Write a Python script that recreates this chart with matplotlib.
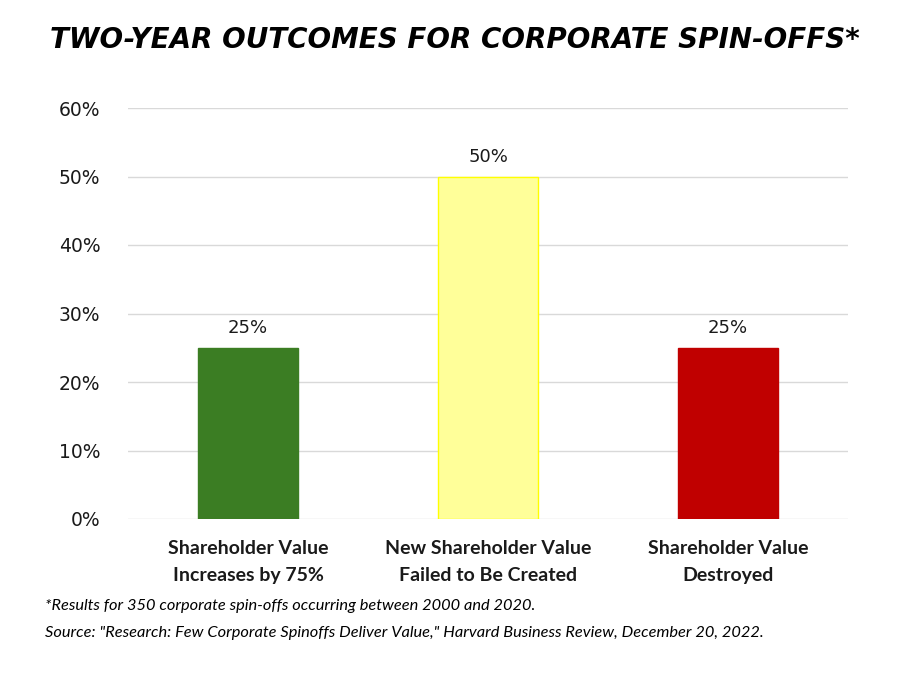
import matplotlib.pyplot as plt
import numpy as np

categories = ["Shareholder Value\nIncreases by 75%",
              "New Shareholder Value\nFailed to Be Created",
              "Shareholder Value\nDestroyed"]
shares = [25, 50, 25]
bar_colors = ["#3B7D23", "#FFFF99", "#C00000"]
edge_colors = ["#3B7D23", "#FFFF00", "#C00000"]
yticks = [0, 10, 20, 30, 40, 50, 60]

plt.rcParams['font.family'] = ['Lato', 'DejaVu Sans']

fig = plt.figure(figsize=(9.1, 6.77), dpi=100)
ax = fig.add_axes([128/910, 158/677, 720/910, 411/677])

x = np.arange(len(categories))
ax.bar(x, shares, width=0.417, color=bar_colors, edgecolor=edge_colors,
       linewidth=1, zorder=3)
for xi, v in zip(x, shares):
    ax.text(xi, v + 1.6, f"{v}%", ha='center', va='bottom', fontsize=13,
            family='DejaVu Sans', color='#1a1a1a', zorder=4,
            bbox=dict(facecolor='white', edgecolor='none', pad=2))

ax.set_xlim(-0.5, 2.5)
ax.set_ylim(0, 60)
ax.set_yticks(yticks)
ax.set_yticklabels([f"{t}%" for t in yticks], fontsize=13.5,
                   family='DejaVu Sans', color='#1a1a1a')
ax.set_xticks(x)
ax.set_xticklabels(categories, fontsize=14, fontweight='bold',
                   color='#1a1a1a', linespacing=1.7)
ax.tick_params(axis='both', length=0)
ax.tick_params(axis='y', pad=20)
ax.tick_params(axis='x', pad=15)
ax.grid(axis='y', color='#D9D9D9', linewidth=1, zorder=0)
for s in ax.spines.values():
    s.set_visible(False)

fig.text(0.5, 1 - 40/677, "TWO-YEAR OUTCOMES FOR CORPORATE SPIN-OFFS*",
         ha='center', va='center', fontsize=20, fontweight='heavy',
         style='italic', family='DejaVu Sans', color='black')

fig.text(45/910, 1 - 606/677,
         "*Results for 350 corporate spin-offs occurring between 2000 and 2020.",
         ha='left', va='center', fontsize=11.8, style='italic', color='black')
fig.text(45/910, 1 - 633/677,
         'Source: "Research: Few Corporate Spinoffs Deliver Value," Harvard Business Review, December 20, 2022.',
         ha='left', va='center', fontsize=11.8, style='italic', color='black')

fig.savefig("out.png", dpi=100)
